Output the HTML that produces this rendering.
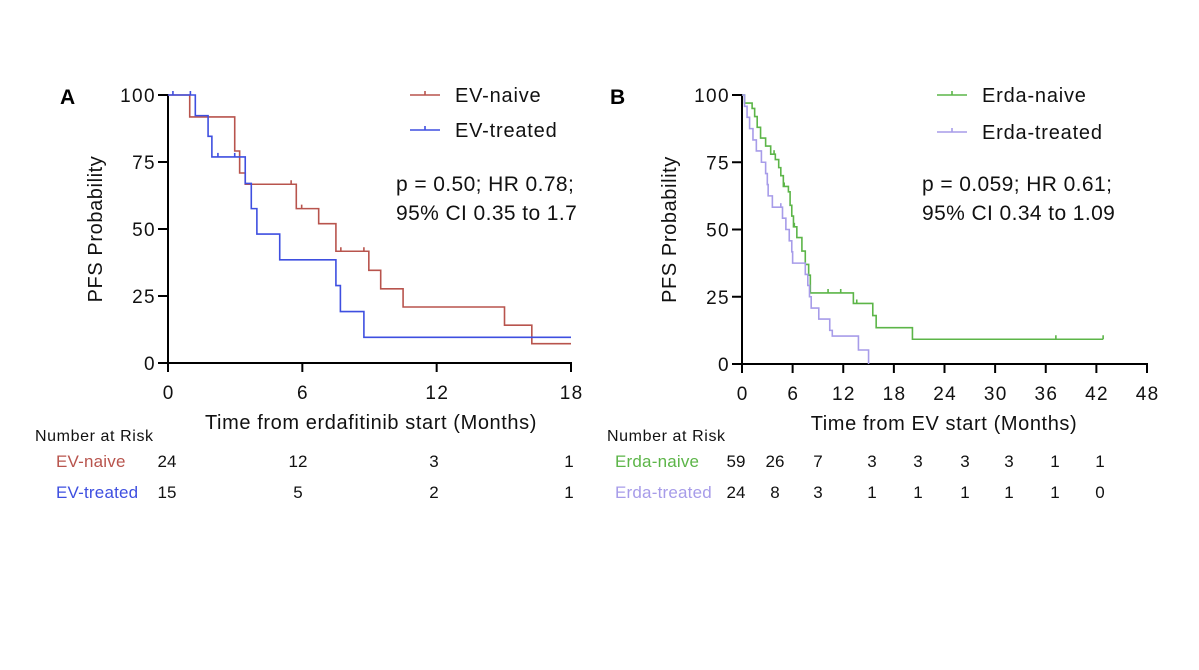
<!DOCTYPE html>
<html><head><meta charset="utf-8"><style>
html,body{margin:0;padding:0;background:#fff;}
svg{display:block;font-family:"Liberation Sans",Arial,sans-serif;}
</style></head><body>
<svg id="chart" width="1199" height="670" viewBox="0 0 1199 670" xmlns="http://www.w3.org/2000/svg">
<rect width="1199" height="670" fill="#fff"/>
<g id="A"></g>
<g id="B"></g>
</svg>
<script>
// Panel A data
const aXTicks = [0, 6, 12, 18];
const aYTicks = [0, 25, 50, 75, 100];
const evNaiveT = [0, 0.97, 2.98, 3.2, 3.45, 5.73, 6.73, 7.5, 8.97, 9.5, 10.5, 15.03, 16.25, 18];
const evNaiveS = [100, 91.8, 79.1, 70.9, 66.7, 57.6, 52, 41.7, 34.6, 27.7, 20.9, 14.1, 7.2, 7.2];
const evNaiveCens = [5.5, 5.97, 7.72, 8.75];
const evTreatedT = [0, 1.22, 1.79, 1.96, 3.45, 3.72, 3.97, 4.99, 7.5, 7.7, 8.75, 18];
const evTreatedS = [100, 92.3, 84.6, 76.9, 67, 57.6, 48.1, 38.5, 28.9, 19.2, 9.6, 9.6];
const evTreatedCens = [0.22, 1.0, 2.23, 2.98];
const aRiskNaive = ['24', '12', '3', '1'];
const aRiskTreated = ['15', '5', '2', '1'];
// Panel B data
const bXTicks = [0, 6, 12, 18, 24, 30, 36, 42, 48];
const bYTicks = [0, 25, 50, 75, 100];
const erNaiveT = [0, 0.3, 1.2, 1.5, 1.8, 2.2, 2.8, 3.4, 3.95, 4.35, 4.6, 4.9, 5.5, 5.7, 5.9, 6.1, 6.5, 7.1, 7.5, 7.9, 8.1, 13.2, 15.5, 15.9, 20.2, 42.8];
const erNaiveS = [100, 97, 95, 92, 88, 84, 81, 78, 76, 73, 70, 66, 64, 59, 55, 51, 47, 42, 37, 33, 26.4, 22.5, 18, 13.5, 9.2, 9.2];
const erNaiveCens = [3.8, 5.0, 6.2, 10.2, 11.7, 13.6, 37.2, 42.8];
const erTreatedT = [0, 0.3, 0.6, 0.9, 1.3, 1.7, 2.3, 2.8, 3.0, 3.1, 3.6, 4.8, 5.2, 5.6, 5.9, 6.0, 7.5, 7.8, 8.0, 8.2, 9.1, 10.4, 10.7, 13.8, 15.0];
const erTreatedS = [100, 95.8, 91.7, 87.5, 83.3, 79.2, 75, 70.8, 66.7, 62.5, 58.3, 54.2, 50, 45.8, 41.7, 37.5, 33.3, 29.2, 25, 20.8, 16.7, 12.5, 10.4, 5.2, 0];
const erTreatedCens = [4.6];
const bRiskNaive = ['59', '26', '7', '3', '3', '3', '3', '1', '1'];
const bRiskTreated = ['24', '8', '3', '1', '1', '1', '1', '1', '0'];

const NS = 'http://www.w3.org/2000/svg';
function mk(parent, tag, attrs, text) {
  const e = document.createElementNS(NS, tag);
  for (const k in attrs) e.setAttribute(k, attrs[k]);
  if (text !== undefined) e.textContent = text;
  parent.appendChild(e);
  return e;
}
function drawPanel(g, cfg) {
  const sx = v => cfg.x0 + (v - cfg.xmin) / (cfg.xmax - cfg.xmin) * (cfg.x1 - cfg.x0);
  const sy = v => cfg.y0 - v / 100 * (cfg.y0 - cfg.y1);
  let t = mk(g, 'text', {x: cfg.letterX, y: 104, 'font-size': 21, 'font-weight': 'bold', fill: '#000'}, cfg.letter);
  
  
  let ax = mk(g, 'line', {x1: cfg.x0, y1: cfg.y1 - 1, x2: cfg.x0, y2: cfg.y0 + 8, stroke: '#000', 'stroke-width': 2});
  
  
  ax = mk(g, 'line', {x1: cfg.x0 - 10, y1: cfg.y0, x2: cfg.x1 + 1, y2: cfg.y0, stroke: '#000', 'stroke-width': 2});
  
  
  cfg.yTicks.forEach(v => {
    const tk = mk(g, 'line', {x1: cfg.x0 - 10, y1: sy(v), x2: cfg.x0, y2: sy(v), stroke: '#000', 'stroke-width': 2});
    
    
    const lb = mk(g, 'text', {x: cfg.x0 - 12, y: sy(v) + 7, 'font-size': 19, 'letter-spacing': 1.4, 'text-anchor': 'end', fill: '#111'}, String(v));
    
    
  });
  cfg.xTicks.forEach(v => {
    const tk = mk(g, 'line', {x1: sx(v), y1: cfg.y0, x2: sx(v), y2: cfg.y0 + 9, stroke: '#000', 'stroke-width': 2});
    
    
    const lb = mk(g, 'text', {x: sx(v) + 0.7, y: cfg.y0 + 36, 'font-size': 19, 'letter-spacing': 1.4, 'text-anchor': 'middle', fill: '#111'}, String(v));
    
    
  });
  t = mk(g, 'text', {x: 0, y: 0, 'font-size': 20, 'letter-spacing': 0.6, 'text-anchor': 'middle', fill: '#111', transform: `translate(${cfg.x0 - 66},${(cfg.y0 + cfg.y1) / 2}) rotate(-90)`}, 'PFS Probability');
  
  
  t = mk(g, 'text', {x: cfg.xTitleX, y: cfg.y0 + 66, 'font-size': 20, 'letter-spacing': 0.6, 'text-anchor': 'middle', fill: '#111'}, cfg.xTitle);
  
  
  cfg.series.forEach(s => {
    let d = `M${sx(s.t[0])},${sy(s.s[0])}`;
    for (let i = 1; i < s.t.length; i++) {
      d += ` H${sx(s.t[i])} V${sy(s.s[i])}`;
    }
    const p = mk(g, 'path', {d: d, fill: 'none', stroke: s.color, 'stroke-width': 1.6});
    
    
    s.cens.forEach(c => {
      let val = s.s[0];
      for (let i = 0; i < s.t.length; i++) if (s.t[i] <= c) val = s.s[i];
      const m = mk(g, 'line', {x1: sx(c), y1: sy(val) - 4, x2: sx(c), y2: sy(val), stroke: s.color, 'stroke-width': 1.6});
      
      
    });
  });
  cfg.series.forEach((s, i) => {
    const ly = cfg.legY[i];
    const l = mk(g, 'line', {x1: cfg.legX, y1: ly, x2: cfg.legX + 30, y2: ly, stroke: s.color, 'stroke-width': 1.6});
    
    
    mk(g, 'line', {x1: cfg.legX + 15, y1: ly - 4, x2: cfg.legX + 15, y2: ly, stroke: s.color, 'stroke-width': 1.6});
    const lt = mk(g, 'text', {x: cfg.legX + 45, y: ly + 7, 'font-size': 20, 'letter-spacing': 0.8, fill: '#111'}, s.label);
    
    
  });
  cfg.stats.forEach((line, i) => {
    const st = mk(g, 'text', {x: cfg.statX, y: 191 + i * 29, 'font-size': 21, 'letter-spacing': 0.4, fill: '#111'}, line);
    
    
  });
  t = mk(g, 'text', {x: cfg.riskTitleX, y: 441, 'font-size': 16, fill: '#111', 'letter-spacing': 0.6}, 'Number at Risk');
  
  
  cfg.series.forEach((s, r) => {
    const ry = 467 + r * 31;
    const rl = mk(g, 'text', {x: cfg.riskLabelX, y: ry, 'font-size': 17, fill: s.color, 'letter-spacing': 0.2}, s.label);
    
    
    s.risk.forEach((v, i) => {
      const rv = mk(g, 'text', {x: cfg.riskX[i], y: ry, 'font-size': 17, 'text-anchor': 'middle', fill: '#111'}, v);
      
      
    });
  });
}
drawPanel(document.getElementById('A'), {
  letter: 'A', letterX: 60, x0: 168, x1: 571, y0: 363, y1: 95, xmin: 0, xmax: 18,
  xTicks: aXTicks, yTicks: aYTicks, xTitle: 'Time from erdafitinib start (Months)', xTitleX: 371,
  legX: 410, legY: [95, 130], statX: 396, stats: ['p = 0.50; HR 0.78;', '95% CI 0.35 to 1.7'],
  riskTitleX: 35, riskLabelX: 56, riskX: [167, 298, 434, 569],
  series: [
    {name: 'ev-naive', label: 'EV-naive', color: '#b8544d', t: evNaiveT, s: evNaiveS, cens: evNaiveCens, risk: aRiskNaive},
    {name: 'ev-treated', label: 'EV-treated', color: '#3e4fe0', t: evTreatedT, s: evTreatedS, cens: evTreatedCens, risk: aRiskTreated}
  ]
});
drawPanel(document.getElementById('B'), {
  letter: 'B', letterX: 610, x0: 742, x1: 1147, y0: 364, y1: 95, xmin: 0, xmax: 48,
  xTicks: bXTicks, yTicks: bYTicks, xTitle: 'Time from EV start (Months)', xTitleX: 944,
  legX: 937, legY: [95, 132], statX: 922, stats: ['p = 0.059; HR 0.61;', '95% CI 0.34 to 1.09'],
  riskTitleX: 607, riskLabelX: 615, riskX: [736, 775, 818, 872, 918, 965, 1009, 1055, 1100],
  series: [
    {name: 'erda-naive', label: 'Erda-naive', color: '#5cb548', t: erNaiveT, s: erNaiveS, cens: erNaiveCens, risk: bRiskNaive},
    {name: 'erda-treated', label: 'Erda-treated', color: '#a79ce9', t: erTreatedT, s: erTreatedS, cens: erTreatedCens, risk: bRiskTreated}
  ]
});
</script>
</body></html>
